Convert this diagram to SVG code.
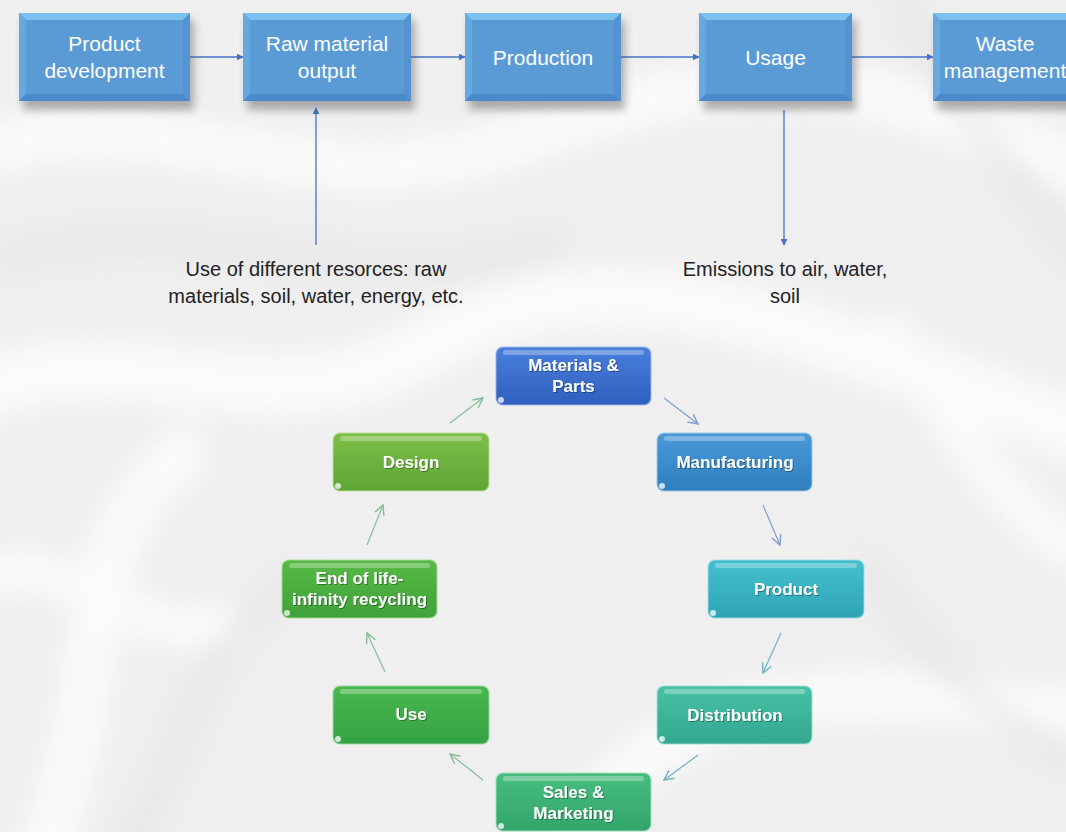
<svg xmlns="http://www.w3.org/2000/svg" width="1066" height="832" viewBox="0 0 1066 832">
<defs>
<style>
.bt{font-family:"Liberation Sans",Arial,sans-serif;font-size:21px;fill:#ffffff;text-anchor:middle}
.ct{font-family:"Liberation Sans",Arial,sans-serif;font-size:17px;font-weight:bold;fill:#ffffff;text-anchor:middle}
.lt{font-family:"Liberation Sans",Arial,sans-serif;font-size:20px;fill:#222222;text-anchor:middle}
.face{fill:#5b9bd5}
.bvt{fill:#7cc2f0}
.bvl{fill:#66a8e0}
.bvb{fill:#4a8acb}
.bvr{fill:#5293d0}
.shd{fill:#555;opacity:.45;filter:url(#blur)}
.tl{stroke:#4472c4;stroke-width:1.3;fill:none;marker-end:url(#ah)}
.cl{stroke-width:1.2;fill:none}
.hl{fill:#ffffff;opacity:.3}
.dot{fill:#ffffff;opacity:.75}
.cb{stroke-width:1.5;stroke-opacity:.6}
</style>
<filter id="blur" x="-20%" y="-20%" width="140%" height="160%"><feGaussianBlur stdDeviation="4"/></filter>
<filter id="bgblur" x="-10%" y="-10%" width="120%" height="120%"><feGaussianBlur stdDeviation="14"/></filter>
<filter id="ts"><feDropShadow dx="1" dy="1" stdDeviation="0.6" flood-color="#000" flood-opacity=".35"/></filter>
<marker id="ah" viewBox="0 0 10 10" refX="9" refY="5" markerWidth="7" markerHeight="7" orient="auto" markerUnits="userSpaceOnUse"><path d="M0,0 L10,5 L0,10 z" fill="#4472c4"/></marker>
<marker id="mg" viewBox="0 0 10 10" refX="9" refY="5" markerWidth="12" markerHeight="12" orient="auto" markerUnits="userSpaceOnUse"><path d="M1,1 L9,5 L1,9" fill="none" stroke="#86bd96" stroke-width="1.2"/></marker>
<marker id="mb" viewBox="0 0 10 10" refX="9" refY="5" markerWidth="12" markerHeight="12" orient="auto" markerUnits="userSpaceOnUse"><path d="M1,1 L9,5 L1,9" fill="none" stroke="#7f9fcf" stroke-width="1.2"/></marker>
<marker id="mt" viewBox="0 0 10 10" refX="9" refY="5" markerWidth="12" markerHeight="12" orient="auto" markerUnits="userSpaceOnUse"><path d="M1,1 L9,5 L1,9" fill="none" stroke="#6fb6c2" stroke-width="1.2"/></marker>
<linearGradient id="gMat" x1="0" y1="0" x2="0" y2="1"><stop offset="0" stop-color="#4a7fdc"/><stop offset="1" stop-color="#2f5fbf"/></linearGradient>
<linearGradient id="gDes" x1="0" y1="0" x2="0" y2="1"><stop offset="0" stop-color="#7cbf48"/><stop offset="1" stop-color="#5ea536"/></linearGradient>
<linearGradient id="gMan" x1="0" y1="0" x2="0" y2="1"><stop offset="0" stop-color="#4a9ad8"/><stop offset="1" stop-color="#2f7fbf"/></linearGradient>
<linearGradient id="gPro" x1="0" y1="0" x2="0" y2="1"><stop offset="0" stop-color="#45bfcf"/><stop offset="1" stop-color="#2ea5b5"/></linearGradient>
<linearGradient id="gEnd" x1="0" y1="0" x2="0" y2="1"><stop offset="0" stop-color="#58ba45"/><stop offset="1" stop-color="#3fa23a"/></linearGradient>
<linearGradient id="gUse" x1="0" y1="0" x2="0" y2="1"><stop offset="0" stop-color="#48b84e"/><stop offset="1" stop-color="#35a343"/></linearGradient>
<linearGradient id="gDis" x1="0" y1="0" x2="0" y2="1"><stop offset="0" stop-color="#48c1a6"/><stop offset="1" stop-color="#32a88f"/></linearGradient>
<linearGradient id="gSal" x1="0" y1="0" x2="0" y2="1"><stop offset="0" stop-color="#47bd80"/><stop offset="1" stop-color="#33a56b"/></linearGradient>
</defs>

<!-- background -->
<rect x="0" y="0" width="1066" height="832" fill="#efefef"/>
<g filter="url(#bgblur)" fill="none" stroke="#ffffff" opacity=".75">
<path stroke-width="50" d="M-40,160 C150,80 300,220 520,140 S850,60 1100,180"/>
<path stroke-width="60" d="M-40,400 C120,320 260,440 420,350 S700,280 1100,440"/>
<path stroke-width="50" d="M40,860 C120,660 60,540 200,440"/>
<path stroke-width="50" d="M560,860 C640,720 760,660 1100,720"/>
<path stroke-width="40" d="M880,320 C960,420 1000,520 1100,560"/>
<path stroke-width="40" d="M-20,580 C80,540 140,660 240,620"/>
</g>
<g filter="url(#bgblur)" fill="none" stroke="#dddddd" stroke-width="24" opacity=".5">
<path d="M0,260 C200,200 360,310 560,240"/>
<path d="M900,0 C960,120 1040,200 1080,260"/>
<path d="M120,860 C200,740 180,660 300,580"/>
<path d="M860,560 C920,640 980,720 1080,760"/>
</g>

<!-- top connectors -->
<g id="connectors-top">
<line class="tl" x1="190" y1="57" x2="243" y2="57"/>
<line class="tl" x1="411" y1="57" x2="465" y2="57"/>
<line class="tl" x1="621" y1="57" x2="699" y2="57"/>
<line class="tl" x1="852" y1="57" x2="933" y2="57"/>
<line class="tl" x1="316" y1="245" x2="316" y2="108"/>
<line class="tl" x1="784" y1="110" x2="784" y2="245"/>
</g>

<!-- top nodes -->
<g id="n-product-development">
<rect class="shd" x="23" y="20" width="171" height="90"/>
<rect class="face" x="19" y="13" width="171" height="88"/>
<polygon class="bvt" points="19,13 190,13 183,20 26,20"/>
<polygon class="bvl" points="19,13 26,20 26,94 19,101"/>
<polygon class="bvb" points="19,101 26,94 183,94 190,101"/>
<polygon class="bvr" points="190,13 190,101 183,94 183,20"/>
<text class="bt" x="104.5" y="51">Product</text>
<text class="bt" x="104.5" y="78">development</text>
</g>
<g id="n-raw-material">
<rect class="shd" x="247" y="20" width="168" height="90"/>
<rect class="face" x="243" y="13" width="168" height="88"/>
<polygon class="bvt" points="243,13 411,13 404,20 250,20"/>
<polygon class="bvl" points="243,13 250,20 250,94 243,101"/>
<polygon class="bvb" points="243,101 250,94 404,94 411,101"/>
<polygon class="bvr" points="411,13 411,101 404,94 404,20"/>
<text class="bt" x="327" y="51">Raw material</text>
<text class="bt" x="327" y="78">output</text>
</g>
<g id="n-production">
<rect class="shd" x="469" y="20" width="156" height="90"/>
<rect class="face" x="465" y="13" width="156" height="88"/>
<polygon class="bvt" points="465,13 621,13 614,20 472,20"/>
<polygon class="bvl" points="465,13 472,20 472,94 465,101"/>
<polygon class="bvb" points="465,101 472,94 614,94 621,101"/>
<polygon class="bvr" points="621,13 621,101 614,94 614,20"/>
<text class="bt" x="543" y="65">Production</text>
</g>
<g id="n-usage">
<rect class="shd" x="703" y="20" width="153" height="90"/>
<rect class="face" x="699" y="13" width="153" height="88"/>
<polygon class="bvt" points="699,13 852,13 845,20 706,20"/>
<polygon class="bvl" points="699,13 706,20 706,94 699,101"/>
<polygon class="bvb" points="699,101 706,94 845,94 852,101"/>
<polygon class="bvr" points="852,13 852,101 845,94 845,20"/>
<text class="bt" x="775.5" y="65">Usage</text>
</g>
<g id="n-waste">
<rect class="shd" x="937" y="20" width="150" height="90"/>
<rect class="face" x="933" y="13" width="150" height="88"/>
<polygon class="bvt" points="933,13 1083,13 1076,20 940,20"/>
<polygon class="bvl" points="933,13 940,20 940,94 933,101"/>
<polygon class="bvb" points="933,101 940,94 1076,94 1083,101"/>
<text class="bt" x="1005" y="51">Waste</text>
<text class="bt" x="1005" y="78">management</text>
</g>

<!-- labels -->
<g id="label-resources">
<text class="lt" x="316" y="276">Use of different resorces: raw</text>
<text class="lt" x="316" y="303">materials, soil, water, energy, etc.</text>
</g>
<g id="label-emissions">
<text class="lt" x="785" y="276">Emissions to air, water,</text>
<text class="lt" x="785" y="303">soil</text>
</g>

<!-- cycle connectors -->
<g id="connectors-cycle">
<line class="cl" stroke="#86bd96" marker-end="url(#mg)" x1="450" y1="423" x2="483" y2="398"/>
<line class="cl" stroke="#7f9fcf" marker-end="url(#mb)" x1="664" y1="398" x2="698" y2="424"/>
<line class="cl" stroke="#7f9fcf" marker-end="url(#mb)" x1="763" y1="505" x2="780" y2="545"/>
<line class="cl" stroke="#6fb6c2" marker-end="url(#mt)" x1="781" y1="633" x2="763" y2="673"/>
<line class="cl" stroke="#6fb6c2" marker-end="url(#mt)" x1="698" y1="755" x2="664" y2="780"/>
<line class="cl" stroke="#86bd96" marker-end="url(#mg)" x1="483" y1="780" x2="450" y2="754"/>
<line class="cl" stroke="#86bd96" marker-end="url(#mg)" x1="385" y1="672" x2="367" y2="633"/>
<line class="cl" stroke="#86bd96" marker-end="url(#mg)" x1="367" y1="545" x2="383" y2="505"/>
</g>

<!-- cycle nodes -->
<g id="c-materials">
<rect x="496" y="347" width="155" height="58" rx="7" fill="url(#gMat)" class="cb" stroke="#9fb8ec"/>
<rect class="hl" x="503" y="350" width="141" height="5" rx="2.5"/>
<circle class="dot" cx="501" cy="400" r="3"/>
<text class="ct" x="573.5" y="371" filter="url(#ts)">Materials &amp;</text>
<text class="ct" x="573.5" y="392" filter="url(#ts)">Parts</text>
</g>
<g id="c-design">
<rect x="333" y="433" width="156" height="58" rx="7" fill="url(#gDes)" class="cb" stroke="#b8e09a"/>
<rect class="hl" x="340" y="436" width="142" height="5" rx="2.5"/>
<circle class="dot" cx="338" cy="486" r="3"/>
<text class="ct" x="411" y="468" filter="url(#ts)">Design</text>
</g>
<g id="c-manufacturing">
<rect x="657" y="433" width="155" height="58" rx="7" fill="url(#gMan)" class="cb" stroke="#9fcdee"/>
<rect class="hl" x="664" y="436" width="141" height="5" rx="2.5"/>
<circle class="dot" cx="662" cy="486" r="3"/>
<text class="ct" x="735" y="468" filter="url(#ts)">Manufacturing</text>
</g>
<g id="c-product">
<rect x="708" y="560" width="156" height="58" rx="7" fill="url(#gPro)" class="cb" stroke="#9fe0e8"/>
<rect class="hl" x="715" y="563" width="142" height="5" rx="2.5"/>
<circle class="dot" cx="713" cy="613" r="3"/>
<text class="ct" x="786" y="595" filter="url(#ts)">Product</text>
</g>
<g id="c-endoflife">
<rect x="282" y="560" width="155" height="58" rx="7" fill="url(#gEnd)" class="cb" stroke="#a8dc98"/>
<rect class="hl" x="289" y="563" width="141" height="5" rx="2.5"/>
<circle class="dot" cx="287" cy="613" r="3"/>
<text class="ct" x="359.5" y="584" filter="url(#ts)">End of life-</text>
<text class="ct" x="359.5" y="605" filter="url(#ts)">infinity recycling</text>
</g>
<g id="c-use">
<rect x="333" y="686" width="156" height="58" rx="7" fill="url(#gUse)" class="cb" stroke="#9cdca2"/>
<rect class="hl" x="340" y="689" width="142" height="5" rx="2.5"/>
<circle class="dot" cx="338" cy="739" r="3"/>
<text class="ct" x="411" y="720" filter="url(#ts)">Use</text>
</g>
<g id="c-distribution">
<rect x="657" y="686" width="155" height="58" rx="7" fill="url(#gDis)" class="cb" stroke="#9ee2d2"/>
<rect class="hl" x="664" y="689" width="141" height="5" rx="2.5"/>
<circle class="dot" cx="662" cy="739" r="3"/>
<text class="ct" x="735" y="721" filter="url(#ts)">Distribution</text>
</g>
<g id="c-sales">
<rect x="496" y="773" width="155" height="58" rx="7" fill="url(#gSal)" class="cb" stroke="#9edfbc"/>
<rect class="hl" x="503" y="776" width="141" height="5" rx="2.5"/>
<circle class="dot" cx="501" cy="826" r="3"/>
<text class="ct" x="573.5" y="798" filter="url(#ts)">Sales &amp;</text>
<text class="ct" x="573.5" y="819" filter="url(#ts)">Marketing</text>
</g>
</svg>
